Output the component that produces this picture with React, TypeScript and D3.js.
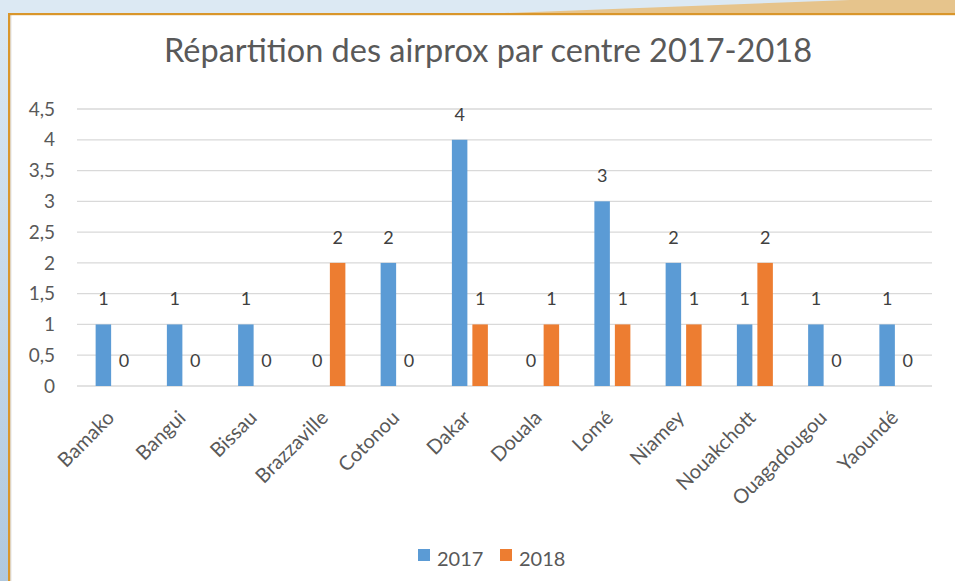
import React from 'react';
import * as d3 from 'd3';

const categories = ['Bamako', 'Bangui', 'Bissau', 'Brazzaville', 'Cotonou', 'Dakar', 'Douala', 'Lomé', 'Niamey', 'Nouakchott', 'Ouagadougou', 'Yaoundé'];
const values2017 = [1, 1, 1, 0, 2, 4, 0, 3, 2, 1, 1, 1];
const values2018 = [0, 0, 0, 2, 0, 1, 1, 1, 1, 2, 0, 0];
const seriesNames = ['2017', '2018'];
const seriesColors = ['#5b9bd5', '#ed7d31'];
const yTicks = [0, 0.5, 1, 1.5, 2, 2.5, 3, 3.5, 4, 4.5];
const title = 'Répartition des airprox par centre 2017-2018';

const W = 955;
const H = 581;
const FONT = "Lato, 'Open Sans', sans-serif";

export default function App() {
  const x0 = d3.scaleBand<string>().domain(categories).range([78, 933]).paddingInner(0).paddingOuter(0);
  const x1 = d3.scaleBand<string>().domain(seriesNames).range([0, x0.bandwidth()]).paddingInner(0.244).paddingOuter(0.86);
  const y = d3.scaleLinear().domain([0, 4.5]).range([386, 109]);
  const fmt = (v: number) => String(v).replace('.', ',');
  const series = [values2017, values2018];

  return (
    <svg width={W} height={H} style={{ position: 'absolute', left: 0, top: 0 }} fontFamily={FONT}>
      <defs>
        <linearGradient id="leftBg" x1="0" y1="0" x2="0" y2="1">
          <stop offset="0" stopColor="#dce9f3" />
          <stop offset="1" stopColor="#b0c8de" />
        </linearGradient>
      </defs>
      <rect x={0} y={0} width={W} height={H} fill="url(#leftBg)" />
      <rect x={0} y={0} width={W} height={14} fill="#dce9f3" />
      <polygon points="480,14 850,0 955,0 955,14" fill="#e6c48c" />
      <rect x={10} y={15} width={W - 10} height={H - 15} fill="#ffffff" />
      <rect x={10} y={15} width={1.5} height={H - 15} fill="#e3e3e3" />
      <rect x={8} y={13} width={W - 8} height={2.2} fill="#d9962b" />
      <rect x={8} y={13} width={2.2} height={H - 13} fill="#d9962b" />

      <text x={488} y={62} textAnchor="middle" fontSize={32.5} fill="#595959">{title}</text>

      {yTicks.map((t) => (
        <g key={t}>
          <line x1={77} x2={932} y1={y(t)} y2={y(t)} stroke="#d9d9d9" strokeWidth={1.3} />
          <text x={55} y={y(t)} dy="0.35em" textAnchor="end" fontSize={19} fill="#595959">{fmt(t)}</text>
        </g>
      ))}

      {categories.map((c, i) => (
        <g key={c} transform={`translate(${x0(c)},0)`}>
          {seriesNames.map((s, j) => {
            const v = series[j][i];
            const bx = x1(s)!;
            return (
              <g key={s}>
                {v > 0 && (
                  <rect x={bx} y={y(v)} width={x1.bandwidth()} height={y(0) - y(v)} fill={seriesColors[j]} />
                )}
                <text x={bx + x1.bandwidth() / 2} y={y(v) - 19} textAnchor="middle" fontSize={18} fill="#404040">{v}</text>
              </g>
            );
          })}
        </g>
      ))}

      {categories.map((c) => {
        const cx = x0(c)! + x0.bandwidth() / 2;
        return (
          <text key={c} transform={`translate(${cx + 2},${419}) rotate(-45)`} textAnchor="end" fontSize={20} fill="#595959">{c}</text>
        );
      })}

      {seriesNames.map((s, j) => {
        const lx = 418 + j * 82;
        return (
          <g key={s}>
            <rect x={lx} y={549} width={12} height={12} fill={seriesColors[j]} />
            <text x={lx + 19} y={566} fontSize={20} fill="#595959">{s}</text>
          </g>
        );
      })}
    </svg>
  );
}
